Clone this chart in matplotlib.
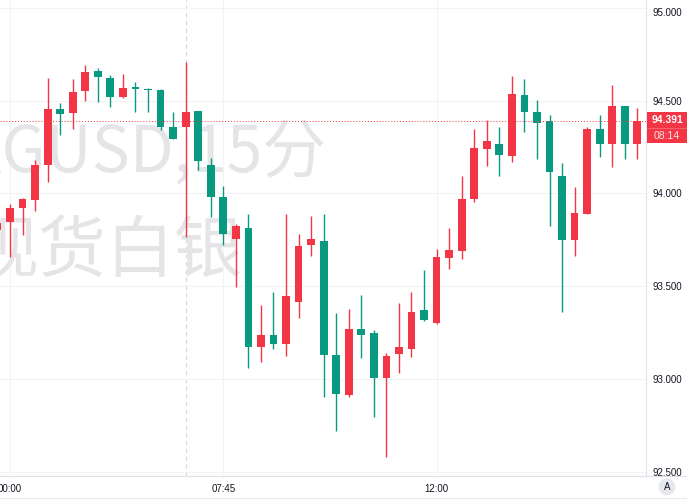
import matplotlib
matplotlib.use("Agg")
import matplotlib.pyplot as plt
from matplotlib.patches import Rectangle
import numpy as np

# 15-minute candles, index 0 = 00:00 (index -1 is cut off at the left edge)
idx = list(range(-1, 51))
opens = [93.803, 93.847, 93.923, 93.966, 94.155, 94.457, 94.432, 94.554, 94.660, 94.624,
         94.522, 94.574, 94.565, 94.558, 94.360, 94.357, 94.444, 94.153, 93.982, 93.754,
         93.812, 93.173, 93.236, 93.189, 93.416, 93.723, 93.745, 93.128, 92.913, 93.269,
         93.245, 93.003, 93.134, 93.161, 93.371, 93.299, 93.650, 93.689, 93.968, 94.241,
         94.266, 94.202, 94.531, 94.437, 94.391, 94.096, 93.749, 93.888, 94.347, 94.265,
         94.470, 94.265]
closes = [93.842, 93.920, 93.968, 94.153, 94.457, 94.427, 94.547, 94.655, 94.629, 94.522,
          94.570, 94.565, 94.559, 94.360, 94.295, 94.441, 94.176, 93.982, 93.779, 93.824,
          93.173, 93.236, 93.189, 93.447, 93.716, 93.754, 93.130, 92.920, 93.269, 93.238,
          93.003, 93.125, 93.173, 93.360, 93.317, 93.658, 93.695, 93.968, 94.243, 94.284,
          94.207, 94.536, 94.441, 94.378, 94.117, 93.749, 93.893, 94.347, 94.265, 94.470,
          94.265, 94.391]
highs = [93.867, 93.943, 93.975, 94.180, 94.622, 94.489, 94.619, 94.694, 94.678, 94.637,
         94.644, 94.601, 94.568, 94.561, 94.441, 94.710, 94.444, 94.193, 94.040, 93.833,
         93.889, 93.398, 93.466, 93.889, 93.779, 93.878, 93.889, 93.357, 93.377, 93.452,
         93.263, 93.138, 93.407, 93.466, 93.587, 93.698, 93.812, 94.094, 94.346, 94.396,
         94.360, 94.635, 94.615, 94.504, 94.423, 94.166, 94.033, 94.360, 94.423, 94.585,
         94.472, 94.459]
lows = [93.776, 93.655, 93.776, 93.907, 94.063, 94.317, 94.349, 94.500, 94.495, 94.468,
        94.516, 94.441, 94.437, 94.342, 94.292, 93.766, 94.126, 93.874, 93.722, 93.497,
        93.060, 93.092, 93.161, 93.125, 93.330, 93.664, 92.903, 92.720, 92.900, 93.111,
        92.792, 92.580, 93.030, 93.116, 93.312, 93.296, 93.592, 93.646, 93.955, 94.148,
        94.094, 94.171, 94.333, 94.186, 93.824, 93.359, 93.664, 93.888, 94.195, 94.144,
        94.184, 94.187]

time_pos = [0, 17, 34]
time_labels = ["00:00", "07:45", "12:00"]
price_ticks = [92.5, 93.0, 93.5, 94.0, 94.5, 95.0]
last_price = 94.391
countdown = "08:14"
session_break = 14

UP = "#f23645"
DOWN = "#089981"
W, H = 687, 500

fig = plt.figure(figsize=(W / 100, H / 100), dpi=100)
ax = fig.add_axes([0, 24 / H, 646 / W, 476 / H])

idx_a = np.array(idx)
o = np.array(opens)
c = np.array(closes)
colors = [UP if cc >= oo else DOWN for oo, cc in zip(o, c)]

ax.vlines(idx_a, lows, highs, colors=colors, linewidth=1.0, zorder=3)
body_lo = np.minimum(o, c)
body_h = np.maximum(np.abs(c - o), 0.006)
ax.bar(idx_a, body_h, bottom=body_lo, width=0.62, color=colors, linewidth=0, zorder=4)

ax.set_xlim(-0.797, 50.69)
ax.set_ylim(92.476, 95.043)

# grid and axes
ax.set_xticks(time_pos)
ax.set_xticklabels(time_labels)
ax.set_yticks(price_ticks)
ax.set_yticklabels([f"{p:.3f}" for p in price_ticks])
ax.yaxis.tick_right()
ax.tick_params(axis="both", length=0, labelsize=7, labelcolor="#131722")
ax.tick_params(axis="y", pad=4.5)
ax.tick_params(axis="x", pad=6)
for lab in ax.get_yticklabels() + ax.get_xticklabels():
    lab.set_fontfamily("Liberation Sans")
ax.get_yticklabels()[-1].set_va("top")
ax.grid(True, color="#f2f3f5", linewidth=0.8, zorder=0)
for s in ["top", "left"]:
    ax.spines[s].set_visible(False)
ax.spines["right"].set_color("#e0e3eb")
ax.spines["bottom"].set_color("#e0e3eb")
ax.spines["right"].set_linewidth(0.8)
ax.spines["bottom"].set_linewidth(0.8)

ax.axvline(session_break, color="#d6d8de", linestyle=(0, (4, 3)), linewidth=0.8, zorder=1)
ax.axhline(last_price, color=UP, linestyle=(0, (1, 2)), linewidth=0.7, zorder=5)

# watermark
wm = dict(family=["Noto Sans CJK SC", "DejaVu Sans"], color="#e5e5e8",
          transform=ax.transAxes, zorder=2, clip_on=True, va="center", ha="right")
ax.text(327 / 646, 1 - 154 / 476, "XAGUSD,15分", fontsize=46, **wm)
ax.text(242 / 646, 1 - 253 / 476, "现货白银", fontsize=49, **wm)

# last price label
fig.add_artist(Rectangle((647 / W, 1 - 143 / H), 40 / W, 31 / H, transform=fig.transFigure,
                         facecolor=UP, edgecolor="none"))
fig.add_artist(plt.Line2D([647 / W, 1], [1 - 128 / H] * 2, transform=fig.transFigure,
                          color="#f56a76", linewidth=0.6))
fig.text(667 / W, 1 - 120 / H, f"{last_price:.3f}", color="white", fontsize=7.5,
         fontweight="bold", ha="center", va="center", family="Liberation Sans")
fig.text(667 / W, 1 - 136 / H, countdown, color="#ffe3e5", fontsize=7.5,
         ha="center", va="center", family="Liberation Sans")

# bottom bars
fig.add_artist(plt.Line2D([0, 1], [24 / H] * 2, transform=fig.transFigure,
                          color="#e0e3eb", linewidth=0.8))
fig.add_artist(plt.Line2D([0, 1], [2 / H] * 2, transform=fig.transFigure,
                          color="#e8eaef", linewidth=0.8))
fig.text(667 / W, 1 - 487 / H, "A", fontsize=7, color="#131722", ha="center", va="center",
         family="Liberation Sans",
         bbox=dict(boxstyle="circle,pad=0.35", facecolor="#e6e8ee", edgecolor="none"))

fig.savefig("out.png", dpi=100)
